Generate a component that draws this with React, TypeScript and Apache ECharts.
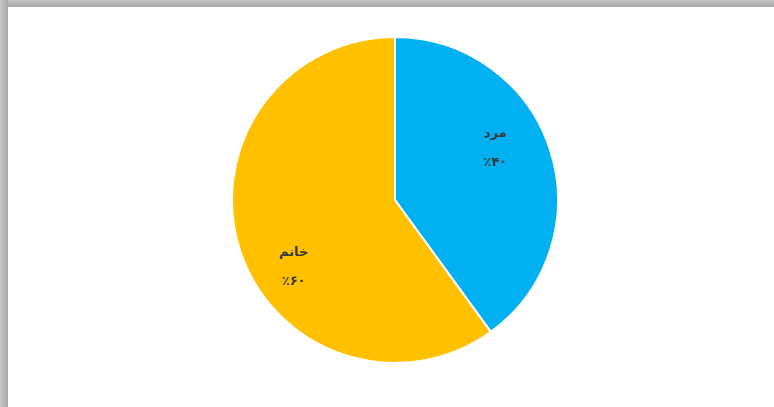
import React, { useEffect, useRef } from "react";
import * as echarts from "echarts";

const categories = ["مرد", "خانم"];
const values = [40, 60];
const sliceColors = ["#00B0F0", "#FFC000"];
const percentLabels = ["٪۴۰", "٪۶۰"];

export default function App() {
  const ref = useRef<HTMLDivElement>(null);
  useEffect(() => {
    document.body.style.margin = "0";
    if (!ref.current) return;
    const chart = echarts.init(ref.current, undefined, { renderer: "svg" });
    const labelShift: Record<number, [number, number]> = { 0: [20, -27], 1: [-21, 40] };
    chart.setOption({
      animation: false,
      backgroundColor: "#ffffff",
      graphic: [
        {
          type: "rect",
          shape: { x: 0, y: 0, width: 774, height: 7 },
          style: {
            fill: new echarts.graphic.LinearGradient(0, 0, 0, 1, [
              { offset: 0, color: "#c4c4c4" },
              { offset: 1, color: "#a6a6a6" },
            ]),
          },
          silent: true,
        },
        {
          type: "rect",
          shape: { x: 0, y: 0, width: 8, height: 407 },
          style: {
            fill: new echarts.graphic.LinearGradient(0, 0, 1, 0, [
              { offset: 0, color: "#c8c8c8" },
              { offset: 1, color: "#a8a8a8" },
            ]),
          },
          silent: true,
        },
      ],
      series: [
        {
          type: "pie",
          center: [395, 200],
          radius: [0, 163],
          startAngle: 90,
          clockwise: true,
          data: categories.map((name, i) => ({
            name,
            value: values[i],
            itemStyle: { color: sliceColors[i] },
          })),
          itemStyle: { borderColor: "#ffffff", borderWidth: 2 },
          label: {
            show: true,
            position: "inside",
            formatter: (p: any) => `${p.name}\n${percentLabels[p.dataIndex]}`,
            fontFamily: "DejaVu Sans",
            fontWeight: "bold",
            fontSize: 13,
            lineHeight: 29,
            color: "#3a3a3a",
          },
          labelLayout: (p: any) => {
            const s = labelShift[p.dataIndex] || [0, 0];
            return { dx: s[0], dy: s[1] };
          },
          labelLine: { show: false },
          emphasis: { disabled: true },
        },
      ],
    });
    return () => chart.dispose();
  }, []);
  return (
    <div
      ref={ref}
      style={{ position: "absolute", left: 0, top: 0, width: 774, height: 407 }}
    />
  );
}
